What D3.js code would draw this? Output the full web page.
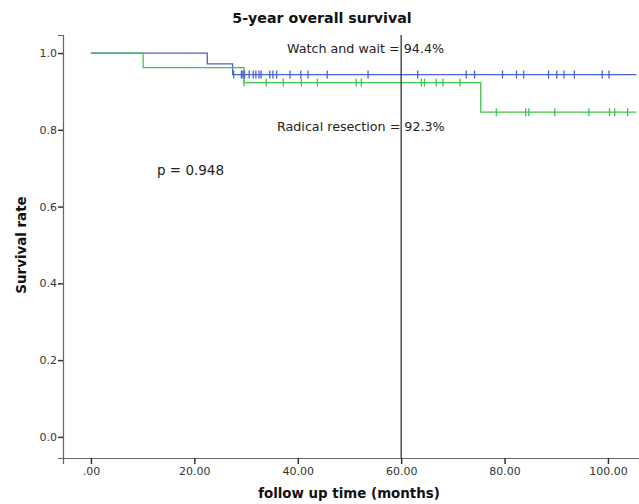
<!DOCTYPE html>
<html><head><meta charset="utf-8">
<script src="https://cdn.jsdelivr.net/npm/d3@7"></script>
<style>
html,body{margin:0;padding:0;background:#fff;}
svg{display:block;}
text{font-family:"DejaVu Sans",sans-serif;}
</style></head>
<body>
<script>
// Step curves (time in months, survival)
const wwSteps = [[0,1.0],[22.5,0.972],[27.4,0.944],[105.5,0.944]];
const rrSteps = [[0,1.0],[10.1,0.962],[29.6,0.923],[75.4,0.846],[105.5,0.846]];
// Censored observations (months)
const wwCensor = [27.6,29.1,29.4,29.7,30.6,31.4,31.9,32.5,32.9,34.6,35.2,35.9,38.5,40.6,42.0,45.7,53.6,63.2,72.6,74.2,79.6,82.3,83.7,88.5,90.1,91.5,93.5,98.9,100.2];
const rrCensor = [29.6,33.9,37.2,40.7,43.8,51.3,52.3,63.9,64.5,66.8,68.1,71.4,78.4,84.1,84.7,89.7,96.3,100.3,101.3,103.8];
const xTicks = [0,20,40,60,80,100];
const yTicks = [0,0.2,0.4,0.6,0.8,1.0];
const title = "5-year overall survival";
const xTitle = "follow up time (months)";
const yTitle = "Survival rate";
const labels = ["Watch and wait = 94.4%","Radical resection = 92.3%","p = 0.948"];

const W=639,H=504;
const svg=d3.select("body").append("svg").attr("width",W).attr("height",H);
const x=d3.scaleLinear().domain([-5.4,106]).range([63,639]);
const y=d3.scaleLinear().domain([-0.055,1.047]).range([458,35]);
function survAt(steps,t){let v=steps[0][1];for(const s of steps){if(s[0]<=t)v=s[1];}return v;}

// axes
const xa=svg.append("g").attr("transform","translate(0,458)")
 .call(d3.axisBottom(x).tickValues(xTicks).tickFormat(d=>d===0?".00":d.toFixed(2)).tickSizeOuter(0).tickSize(6).tickPadding(3));
const ya=svg.append("g").attr("transform","translate(63,0)")
 .call(d3.axisLeft(y).tickValues(yTicks).tickFormat(d3.format(".1f")).tickSizeOuter(0).tickSize(5));
[xa,ya].forEach(g=>{g.select(".domain").attr("stroke","#666").attr("stroke-width",1.2);
 g.selectAll(".tick line").attr("stroke","#333").attr("stroke-width",1.5);
 g.selectAll(".tick text").attr("fill","#333").attr("font-size",11).attr("font-family","DejaVu Sans");});
ya.selectAll(".tick text").attr("x",-6);

// step lines
const line=d3.line().x(d=>x(d[0])).y(d=>y(d[1])).curve(d3.curveStepAfter);
svg.append("path").datum(wwSteps).attr("d",line).attr("fill","none").attr("stroke","#4a62cf").attr("stroke-width",1.3);
svg.append("path").datum(rrSteps).attr("d",line).attr("fill","none").attr("stroke","#3fc44b").attr("stroke-width",1.3);
// censor marks
svg.append("g").selectAll("line").data(wwCensor).join("line")
 .attr("x1",d=>x(d)).attr("x2",d=>x(d)).attr("y1",d=>y(survAt(wwSteps,d))-4).attr("y2",d=>y(survAt(wwSteps,d))+4)
 .attr("stroke","#4a62cf").attr("stroke-width",1.3);
svg.append("g").selectAll("line").data(rrCensor).join("line")
 .attr("x1",d=>x(d)).attr("x2",d=>x(d)).attr("y1",d=>y(survAt(rrSteps,d))-4).attr("y2",d=>y(survAt(rrSteps,d))+4)
 .attr("stroke","#3fc44b").attr("stroke-width",1.3);

// reference line at 60
svg.append("line").attr("x1",x(60)).attr("x2",x(60)).attr("y1",35).attr("y2",458).attr("stroke","#222").attr("stroke-width",1.2);

// labels
svg.append("text").attr("x",287).attr("y",53).attr("font-size",12.7).attr("fill","#222").text(labels[0]);
svg.append("text").attr("x",277).attr("y",131).attr("font-size",12.7).attr("fill","#222").text(labels[1]);
svg.append("text").attr("x",190.5).attr("y",175).attr("text-anchor","middle").attr("font-size",13.5).attr("fill","#222").text(labels[2]);

svg.append("text").attr("x",322).attr("y",23).attr("text-anchor","middle").attr("font-size",14.2).attr("font-weight","bold").attr("fill","#111").text(title);
svg.append("text").attr("x",349).attr("y",498).attr("text-anchor","middle").attr("font-size",13.4).attr("font-weight","bold").attr("fill","#111").text(xTitle);
svg.append("text").attr("transform","translate(26,245) rotate(-90)").attr("text-anchor","middle").attr("font-size",13.4).attr("font-weight","bold").attr("fill","#111").text(yTitle);
</script>
</body></html>
